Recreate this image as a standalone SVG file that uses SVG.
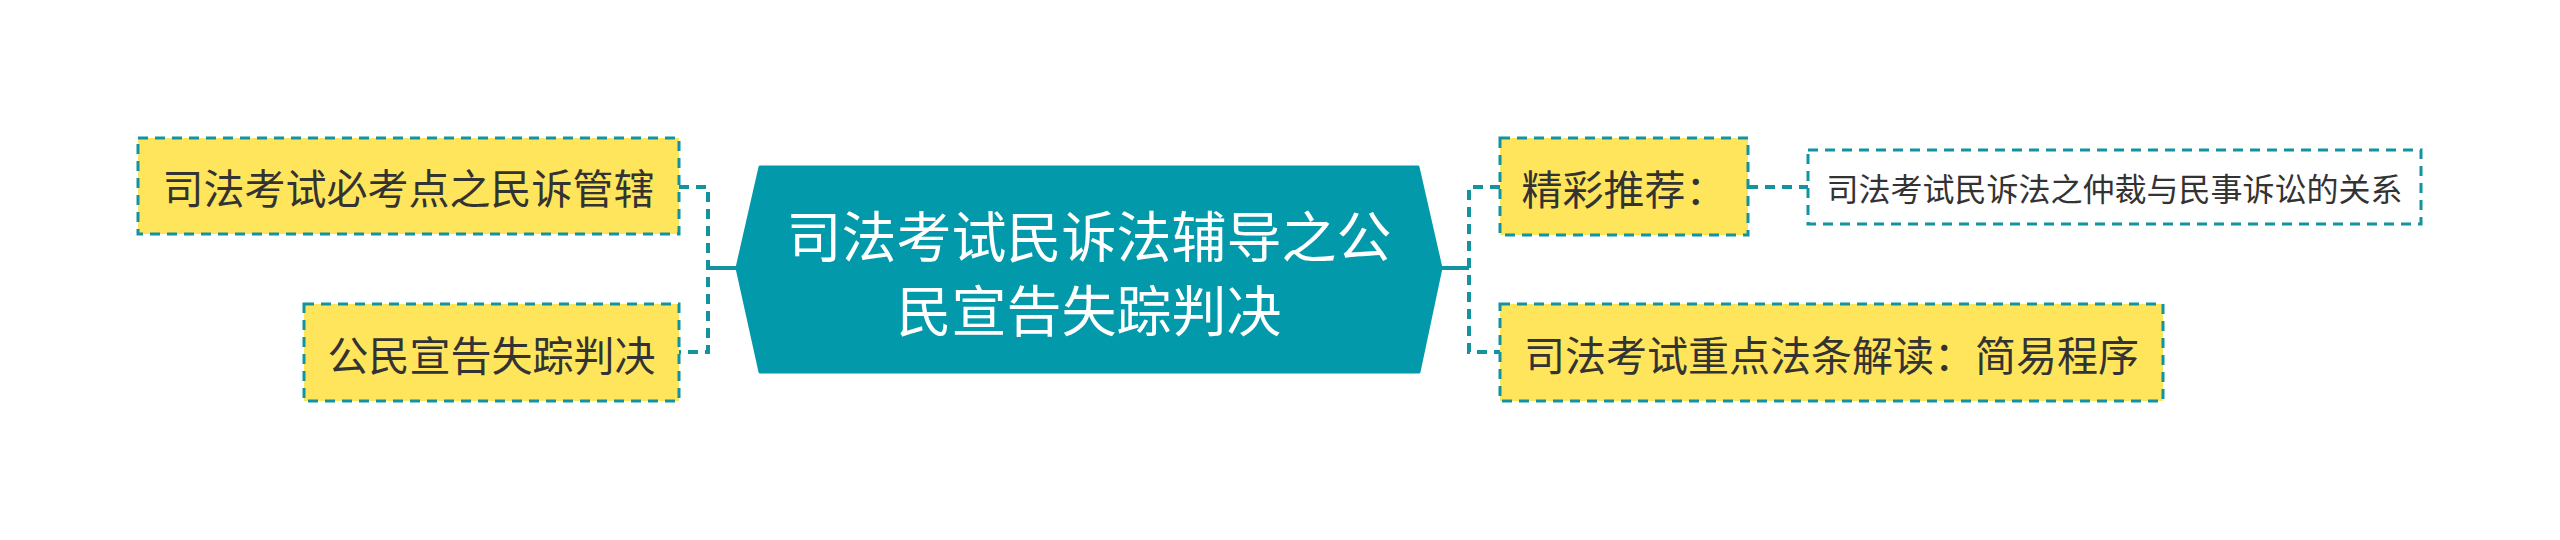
<svg xmlns="http://www.w3.org/2000/svg" width="2560" height="540" viewBox="0 0 2560 540">
<style>
.box{fill:#FFE55C;stroke:#12939F;stroke-width:3;stroke-dasharray:10 7;}
.wbox{fill:#FFFFFF;stroke:#12939F;stroke-width:3;stroke-dasharray:10 7;}
.t{font-family:"Noto Sans CJK SC","Noto Sans",sans-serif;fill:#333333;text-anchor:middle;dominant-baseline:central;}
.main{font-family:"Noto Sans CJK SC","Noto Sans",sans-serif;fill:#FFFFFF;text-anchor:middle;dominant-baseline:central;font-size:55px;}
.dash{fill:none;stroke:#12939F;stroke-width:4;stroke-dasharray:10 7;}
.solid{fill:none;stroke:#12939F;stroke-width:4;}
</style>
<rect width="2560" height="540" fill="#FFFFFF"/>
<g id="connectors">
<path class="solid" d="M737,268 L708,268"/>
<path class="dash" d="M679,187 L708,187 L708,352 L679,352"/>
<path class="solid" d="M1441,268 L1469,268"/>
<path class="dash" d="M1500,187 L1469,187 L1469,352 L1500,352"/>
<path class="dash" d="M1748,187 L1808,187"/>
</g>
<g id="root">
<path d="M737,268 L760,167 L1418,167 L1441,268 L1419,372 L760,372 Z" fill="#0299AA" stroke="#0299AA" stroke-width="3" stroke-linejoin="round"/>
<text class="main" x="1089" y="233">司法考试民诉法辅导之公</text>
<text class="main" x="1089" y="307">民宣告失踪判决</text>
</g>
<g id="node1">
<rect class="box" x="138" y="138" width="541" height="96"/>
<text class="t" x="408.5" y="186" font-size="41">司法考试必考点之民诉管辖</text>
</g>
<g id="node2">
<rect class="box" x="304" y="304" width="375" height="97"/>
<text class="t" x="491.5" y="352.5" font-size="41">公民宣告失踪判决</text>
</g>
<g id="node3">
<rect class="box" x="1500" y="138" width="248" height="97"/>
<text class="t" x="1624" y="186.5" font-size="41">精彩推荐：</text>
</g>
<g id="node4">
<rect class="box" x="1500" y="304" width="663" height="97"/>
<text class="t" x="1831.5" y="352.5" font-size="41">司法考试重点法条解读：简易程序</text>
</g>
<g id="node5">
<rect class="wbox" x="1808" y="150" width="613" height="74"/>
<text class="t" x="2114.5" y="187" font-size="32">司法考试民诉法之仲裁与民事诉讼的关系</text>
</g>
</svg>
